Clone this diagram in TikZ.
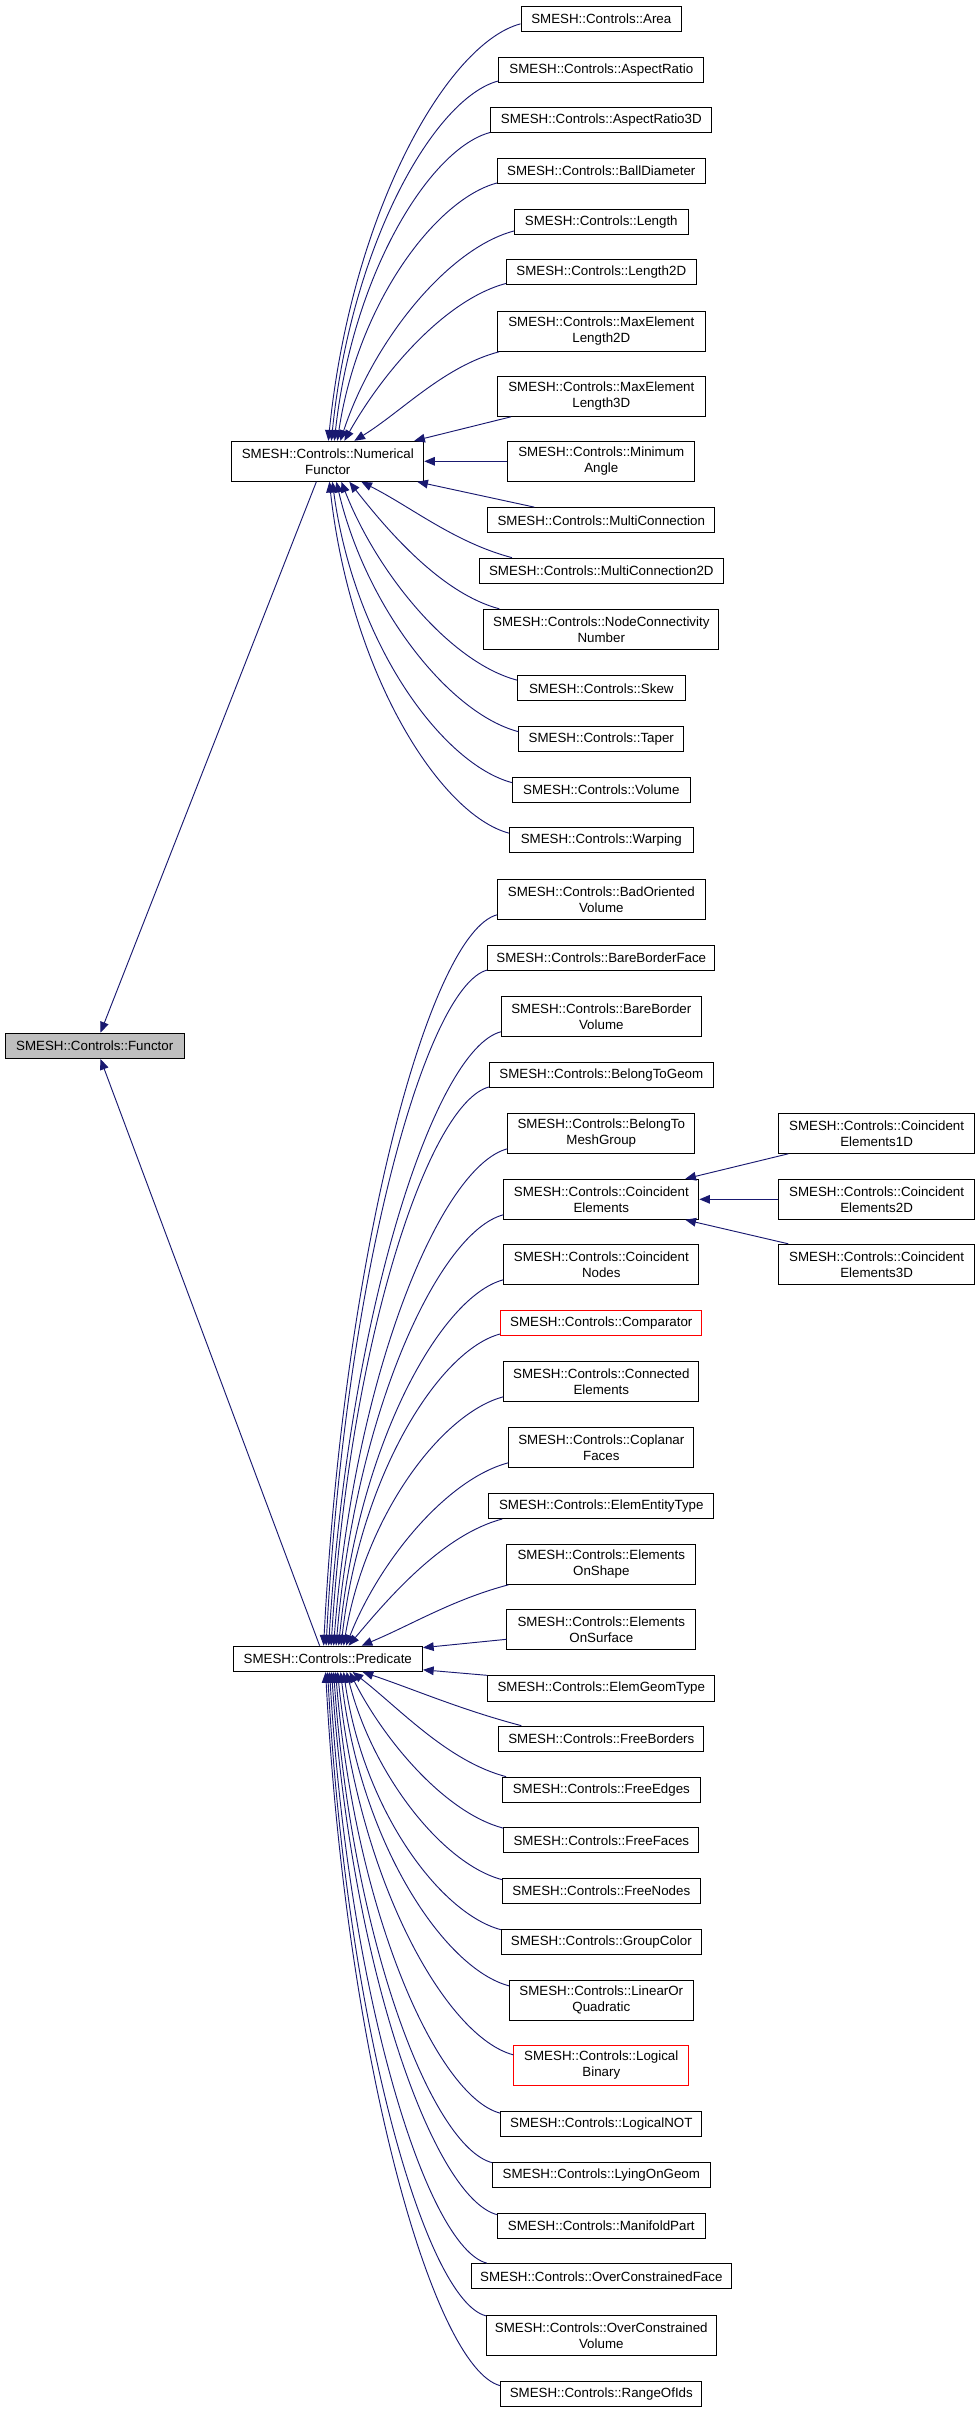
\documentclass[tikz,border=0pt]{standalone}
\usepackage{fontspec}
\setmainfont{Liberation Sans}
\usetikzlibrary{arrows.meta,calc}
\definecolor{edgeblue}{RGB}{25,25,112}
\definecolor{fgray}{RGB}{191,191,191}
\newcommand\upedge[2]{\draw[conn] let \p1=(#1), \p2=(#2),
  \n1={abs(\x1-\x2)}, \n2={abs(\y1-\y2)},
  \n3={min(1,max(0,(\n2/(\n1+\n2)-0.38)/0.25))},
  \n4={0.33-0.21*\n3}, \n5={0.33+0.22*\n3}
  in (\p1) .. controls ({\x1-0.38*\n1},{\y1-0.1*\n1}) and ({\x2+\n4*\n1},{\y2+\n5*\n2}) .. (\p2);}
\newcommand\downedge[2]{\draw[conn] let \p1=(#1), \p2=(#2),
  \n1={abs(\x1-\x2)}, \n2={abs(\y1-\y2)},
  \n3={min(1,max(0,(\n2/(\n1+\n2)-0.38)/0.25))},
  \n4={0.33-0.21*\n3}, \n5={0.33+0.22*\n3}
  in (\p1) .. controls ({\x1-0.38*\n1},{\y1+0.1*\n1}) and ({\x2+\n4*\n1},{\y2-\n5*\n2}) .. (\p2);}
\begin{document}
\begin{tikzpicture}[x=0.75pt,y=-0.75pt,
  box/.style={draw=black, line width=0.75pt, fill=white, font=\fontsize{10pt}{12pt}\selectfont,
    align=center, inner xsep=2pt, inner ysep=1pt, minimum height=19pt},
  box2/.style={box, minimum height=30pt},
  bw/.style={minimum width={#1*0.75pt}},
  redbox/.style={draw=red},
  conn/.style={draw=edgeblue, line width=0.7pt, -{Triangle[length=8pt,width=6.5pt]}}]
\useasboundingbox (0,0) rectangle (975,2412);
% left column
\node[box, fill=fgray, bw=179.4] (functor) at (94.7,1045.8) {SMESH::Controls::Functor};
\node[box2, bw=191.9] (nf) at (327.8,461.3) {SMESH::Controls::Numerical\\Functor};
\node[box, bw=189.4] (pred) at (327.8,1658.8) {SMESH::Controls::Predicate};
% numerical functor children
\node[box, bw=160.6] (area) at (601.3,18.7) {SMESH::Controls::Area};
\node[box, bw=205] (ar) at (601.3,69.8) {SMESH::Controls::AspectRatio};
\node[box, bw=221.3] (ar3) at (601.3,120.3) {SMESH::Controls::AspectRatio3D};
\node[box, bw=207.5] (bd) at (601.3,170.8) {SMESH::Controls::BallDiameter};
\node[box, bw=173.6] (len) at (601.3,221.8) {SMESH::Controls::Length};
\node[box, bw=189.6] (len2) at (601.3,272.3) {SMESH::Controls::Length2D};
\node[box2, bw=207.5] (me2) at (601.3,331.3) {SMESH::Controls::MaxElement\\Length2D};
\node[box2, bw=207.5] (me3) at (601.3,396.3) {SMESH::Controls::MaxElement\\Length3D};
\node[box2, bw=186.9] (ma) at (601.3,461.3) {SMESH::Controls::Minimum\\Angle};
\node[box, bw=226.9] (mc) at (601.3,520.3) {SMESH::Controls::MultiConnection};
\node[box, bw=243.7] (mc2) at (601.3,570.8) {SMESH::Controls::MultiConnection2D};
\node[box2, bw=235] (ncn) at (601.3,629.3) {SMESH::Controls::NodeConnectivity\\Number};
\node[box, bw=167.5] (skew) at (601.3,688.3) {SMESH::Controls::Skew};
\node[box, bw=165] (taper) at (601.3,738.8) {SMESH::Controls::Taper};
\node[box, bw=177.5] (vol) at (601.3,789.8) {SMESH::Controls::Volume};
\node[box, bw=183.6] (warp) at (601.3,840.3) {SMESH::Controls::Warping};
% predicate children
\node[box2, bw=207.5] (bov) at (601.3,899.3) {SMESH::Controls::BadOriented\\Volume};
\node[box, bw=226.9] (bbf) at (601.3,957.8) {SMESH::Controls::BareBorderFace};
\node[box2, bw=200] (bbv) at (601.3,1016.3) {SMESH::Controls::BareBorder\\Volume};
\node[box, bw=223.7] (btg) at (601.3,1074.8) {SMESH::Controls::BelongToGeom};
\node[box2, bw=186.9] (btmg) at (601.3,1133.3) {SMESH::Controls::BelongTo\\MeshGroup};
\node[box2, bw=195] (ce) at (601.3,1199.3) {SMESH::Controls::Coincident\\Elements};
\node[box2, bw=195] (cn) at (601.3,1264.3) {SMESH::Controls::Coincident\\Nodes};
\node[box, redbox, bw=201.3] (comp) at (601.3,1322.8) {SMESH::Controls::Comparator};
\node[box2, bw=195] (conn) at (601.3,1381.3) {SMESH::Controls::Connected\\Elements};
\node[box2, bw=185] (cop) at (601.3,1447.3) {SMESH::Controls::Coplanar\\Faces};
\node[box, bw=225] (eet) at (601.3,1505.8) {SMESH::Controls::ElemEntityType};
\node[box2, bw=188.7] (eos) at (601.3,1564.3) {SMESH::Controls::Elements\\OnShape};
\node[box2, bw=188.7] (eosu) at (601.3,1629.3) {SMESH::Controls::Elements\\OnSurface};
\node[box, bw=226.9] (egt) at (601.3,1688.5) {SMESH::Controls::ElemGeomType};
\node[box, bw=205] (fb) at (601.3,1738.8) {SMESH::Controls::FreeBorders};
\node[box, bw=197.5] (fe) at (601.3,1789.8) {SMESH::Controls::FreeEdges};
\node[box, bw=195] (ff) at (601.3,1840.3) {SMESH::Controls::FreeFaces};
\node[box, bw=197.5] (fn) at (601.3,1890.8) {SMESH::Controls::FreeNodes};
\node[box, bw=200] (gc) at (601.3,1941.8) {SMESH::Controls::GroupColor};
\node[box2, bw=183.7] (loq) at (601.3,2000.3) {SMESH::Controls::LinearOr\\Quadratic};
\node[box2, redbox, bw=175] (lb) at (601.3,2065.3) {SMESH::Controls::Logical\\Binary};
\node[box, bw=201.3] (lnot) at (601.3,2124.3) {SMESH::Controls::LogicalNOT};
\node[box, bw=217.5] (log) at (601.3,2174.8) {SMESH::Controls::LyingOnGeom};
\node[box, bw=207.5] (mp) at (601.3,2225.8) {SMESH::Controls::ManifoldPart};
\node[box, bw=260] (ocf) at (601.3,2276.3) {SMESH::Controls::OverConstrainedFace};
\node[box2, bw=230] (ocv) at (601.3,2335.3) {SMESH::Controls::OverConstrained\\Volume};
\node[box, bw=201.3] (roi) at (601.3,2393.8) {SMESH::Controls::RangeOfIds};
% coincident elements children
\node[box2, bw=195.6] (ce1) at (876.6,1133.3) {SMESH::Controls::Coincident\\Elements1D};
\node[box2, bw=195.6] (ce2) at (876.6,1199.3) {SMESH::Controls::Coincident\\Elements2D};
\node[box2, bw=195.6] (ce3) at (876.6,1264.3) {SMESH::Controls::Coincident\\Elements3D};
% edges to Functor
\draw[conn] ($(nf.south west)+(85,0)$) -- ($(functor.north west)+(96,0)$);
\draw[conn] ($(pred.north west)+(87,0)$) -- ($(functor.south west)+(96,0)$);
% edges to NumericalFunctor
\upedge{$(area.south west)+(0,-8)$}{$(nf.north west)+(97,0)$}
\upedge{$(ar.south west)+(0,-2)$}{$(nf.north west)+(100,0)$}
\upedge{$(ar3.south west)+(0,-1)$}{$(nf.north west)+(103,0)$}
\upedge{$(bd.south west)+(0,-1)$}{$(nf.north west)+(106,0)$}
\upedge{$(len.south west)+(0,-4)$}{$(nf.north west)+(109,0)$}
\upedge{$(len2.south west)+(0,-2)$}{$(nf.north west)+(113,0)$}
\upedge{$(me2.south west)+(2,0)$}{$(nf.north west)+(123,0)$}
\draw[conn] ($(me3.south west)+(14,0)$) -- ($(nf.north east)+(-10,0)$);
\draw[conn] (ma.west) -- (nf.east);
\draw[conn] ($(mc.north west)+(47,0)$) -- ($(nf.south east)+(-7,0)$);
\downedge{$(mc2.north west)+(33,0)$}{$(nf.south west)+(130,0)$}
\downedge{$(ncn.north west)+(16,0)$}{$(nf.south west)+(118,0)$}
\downedge{$(skew.north west)+(0,5)$}{$(nf.south west)+(110,0)$}
\downedge{$(taper.north west)+(0,6)$}{$(nf.south west)+(105,0)$}
\downedge{$(vol.north west)+(0,6)$}{$(nf.south west)+(101,0)$}
\downedge{$(warp.north west)+(0,6)$}{$(nf.south west)+(98,0)$}
% edges to Predicate
\upedge{$(bov.south west)+(0,-5)$}{$(pred.north west)+(91,0)$}
\upedge{$(bbf.south west)+(0,-1)$}{$(pred.north west)+(93.5,0)$}
\upedge{$(bbv.south west)+(0,-5)$}{$(pred.north west)+(96,0)$}
\upedge{$(btg.south west)+(0,-1)$}{$(pred.north west)+(98.5,0)$}
\upedge{$(btmg.south west)+(0,-5)$}{$(pred.north west)+(101,0)$}
\upedge{$(ce.south west)+(0,-5)$}{$(pred.north west)+(103.5,0)$}
\upedge{$(cn.south west)+(0,-5)$}{$(pred.north west)+(106,0)$}
\upedge{$(comp.south west)+(0,-2)$}{$(pred.north west)+(108.5,0)$}
\upedge{$(conn.south west)+(0,-5)$}{$(pred.north west)+(111,0)$}
\upedge{$(cop.south west)+(0,-5)$}{$(pred.north west)+(113.5,0)$}
\upedge{$(eet.south west)+(14,0)$}{$(pred.north west)+(116,0)$}
\upedge{$(eos.south west)+(2,0)$}{$(pred.north west)+(129,0)$}
\draw[conn] ($(eosu.west)+(0,10)$) -- ($(pred.north east)+(0,2)$);
\draw[conn] (egt.north west) -- ($(pred.east)+(0,11)$);
\downedge{$(fb.north west)+(23,0)$}{$(pred.south west)+(130,0)$}
\downedge{$(fe.north west)+(4,0)$}{$(pred.south west)+(120,0)$}
\downedge{$(ff.north west)+(0,1)$}{$(pred.south west)+(117,0)$}
\downedge{$(fn.north west)+(0,2)$}{$(pred.south west)+(114,0)$}
\downedge{$(gc.north west)+(0,1)$}{$(pred.south west)+(111,0)$}
\downedge{$(loq.north west)+(0,6)$}{$(pred.south west)+(108,0)$}
\downedge{$(lb.north west)+(0,10)$}{$(pred.south west)+(105,0)$}
\downedge{$(lnot.north west)+(0,2)$}{$(pred.south west)+(103,0)$}
\downedge{$(log.north west)+(0,1)$}{$(pred.south west)+(101,0)$}
\downedge{$(mp.north west)+(0,2)$}{$(pred.south west)+(99,0)$}
\downedge{$(ocf.north west)+(16,0)$}{$(pred.south west)+(97,0)$}
\downedge{$(ocv.north west)+(0,1)$}{$(pred.south west)+(95,0)$}
\downedge{$(roi.north west)+(0,5)$}{$(pred.south west)+(93,0)$}
% edges to CoincidentElements
\draw[conn] ($(ce1.south west)+(10,0)$) -- ($(ce.north east)+(-14,0)$);
\draw[conn] (ce2.west) -- (ce.east);
\draw[conn] ($(ce3.north west)+(10,0)$) -- ($(ce.south east)+(-14,0)$);
\end{tikzpicture}
\end{document}
